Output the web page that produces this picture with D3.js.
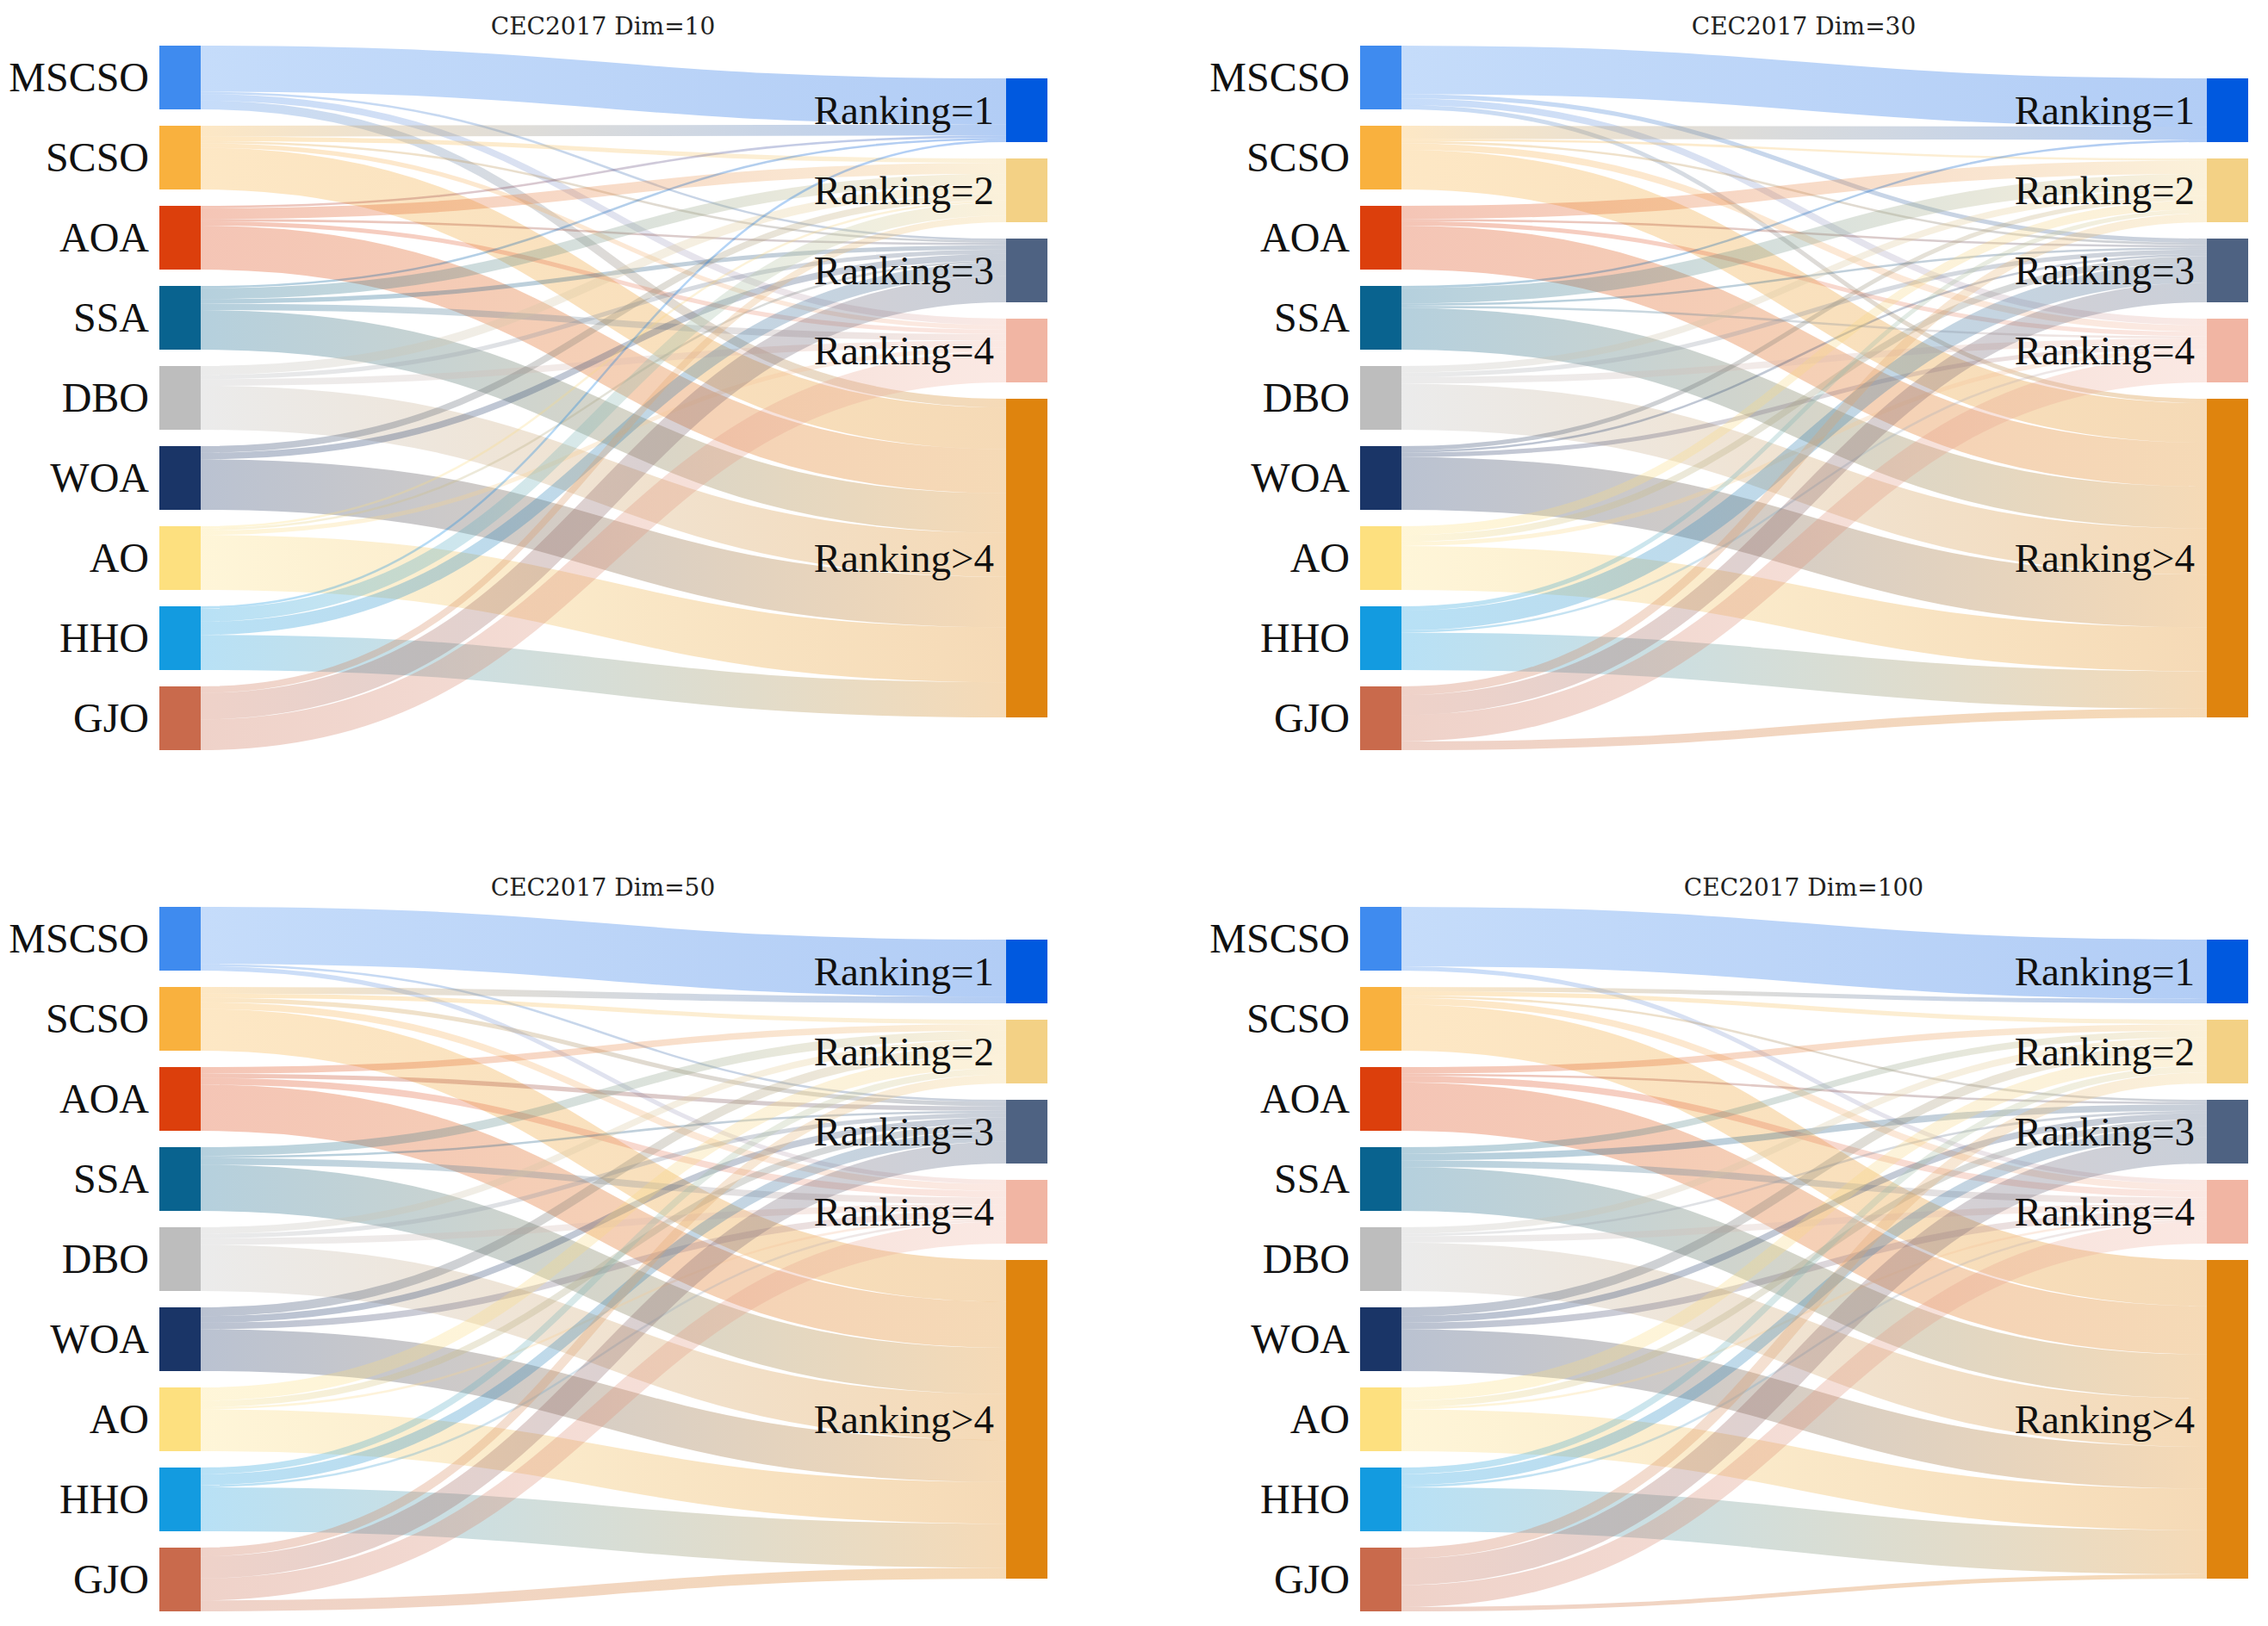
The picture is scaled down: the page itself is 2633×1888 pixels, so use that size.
<!DOCTYPE html>
<html>
<head>
<meta charset="utf-8">
<script src="https://cdn.jsdelivr.net/npm/d3@7"></script>
<style>
  body { margin: 0; background: #fff; }
</style>
</head>
<body>
<svg id="chart" width="2633" height="1888"></svg>
<script>
"use strict";

const algorithms = ["MSCSO", "SCSO", "AOA", "SSA", "DBO", "WOA", "AO", "HHO", "GJO"];
const rankings = ["Ranking=1", "Ranking=2", "Ranking=3", "Ranking=4", "Ranking>4"];
const algoColors = ["#3f8bef", "#f9b13e", "#dc3f0c", "#09638f", "#bdbdbd", "#1a3567", "#fde07f", "#139be0", "#c96a4c"];
const rankColors = ["#0059df", "#f3d185", "#4e6282", "#f1b5a3", "#df840e"];
const titles = ["CEC2017 Dim=10", "CEC2017 Dim=30", "CEC2017 Dim=50", "CEC2017 Dim=100"];

// number of functions per ranking class, one row per algorithm
// columns: Ranking=1, =2, =3, =4, >4
const dim10 = [
    [21, 0, 1, 3, 4],
    [5, 2, 1, 2, 19],
    [1, 5, 1, 2, 20],
    [1, 5, 2, 3, 18],
    [0, 4, 2, 3, 20],
    [0, 3, 3, 0, 23],
    [0, 1, 1, 2, 25],
    [1, 6, 6, 0, 16],
    [0, 3, 12, 14, 0]
];
const dim30 = [
    [22, 0, 2, 3, 2],
    [6, 1, 1, 3, 18],
    [0, 6, 1, 2, 20],
    [1, 7, 1, 1, 19],
    [0, 3, 2, 3, 21],
    [0, 2, 1, 2, 24],
    [0, 4, 3, 2, 20],
    [0, 2, 9, 1, 17],
    [0, 4, 9, 12, 4]
];
const dim50 = [
    [26, 0, 1, 2, 0],
    [3, 2, 2, 3, 19],
    [0, 3, 2, 3, 21],
    [0, 4, 1, 3, 21],
    [0, 3, 2, 3, 21],
    [0, 4, 3, 3, 19],
    [0, 6, 3, 1, 19],
    [0, 3, 5, 1, 20],
    [0, 4, 10, 10, 5]
];
const dim100 = [
    [27, 0, 0, 2, 0],
    [2, 2, 1, 3, 21],
    [0, 3, 1, 3, 22],
    [0, 3, 3, 3, 20],
    [0, 3, 1, 3, 22],
    [0, 4, 3, 3, 19],
    [0, 6, 3, 1, 19],
    [0, 3, 5, 1, 20],
    [0, 5, 12, 10, 2]
];

let svg = d3.select("#chart");
let defs = svg.append("defs");

let panels = [
    { title: titles[0], counts: dim10, dx: 0, dy: 0 },
    { title: titles[1], counts: dim30, dx: 1394, dy: 0 },
    { title: titles[2], counts: dim50, dx: 0, dy: 1000 },
    { title: titles[3], counts: dim100, dx: 1394, dy: 1000 }
];

let layout = {
    leftX: 185, rightX: 1168, nodeWidth: 48,
    top: 53, nodeGap: 19
};

// value -> pixel thickness
let k = d3.scaleLinear().domain([0, 29]).range([0, 74]);
let link = d3.linkHorizontal();

panels.forEach((p, pi) => drawPanel(p, pi));

function drawPanel(p, pi) {
    let g = svg.append("g")
        .attr("transform", "translate(" + p.dx + "," + p.dy + ")");

    // left nodes
    let y = layout.top;
    let left = algorithms.map((name, i) => {
        let h = k(d3.sum(p.counts[i]));
        let n = { name: name, color: algoColors[i], y0: y, y1: y + h };
        y += h + layout.nodeGap;
        return n;
    });
    let leftSpan = left[left.length - 1].y1 - left[0].y0;

    // right nodes (stacked, centred on the left column)
    let totals = rankings.map((r, j) => d3.sum(p.counts, row => row[j]));
    let rightSpan = d3.sum(totals, t => k(t)) + layout.nodeGap * (rankings.length - 1);
    y = layout.top + (leftSpan - rightSpan) / 2;
    let right = rankings.map((name, j) => {
        let h = k(totals[j]);
        let n = { name: name, color: rankColors[j], y0: y, y1: y + h };
        y += h + layout.nodeGap;
        return n;
    });

    // links: ordered by target at the source, by source at the target
    let links = [];
    let srcOff = left.map(n => n.y0);
    let tgtOff = right.map(n => n.y0);
    algorithms.forEach((a, i) => {
        rankings.forEach((r, j) => {
            let v = p.counts[i][j];
            if (!v) return;
            let w = k(v);
            links.push({ i: i, j: j, w: w, y0: srcOff[i] + w / 2 });
            srcOff[i] += w;
        });
    });
    algorithms.forEach((a, i) => {
        rankings.forEach((r, j) => {
            let l = links.find(d => d.i === i && d.j === j);
            if (!l) return;
            l.y1 = tgtOff[j] + l.w / 2;
            tgtOff[j] += l.w;
        });
    });

    let x0 = layout.leftX + layout.nodeWidth, x1 = layout.rightX;

    // gradient from source colour to target colour (in the panel's own space)
    links.forEach((l, li) => {
        let id = "grad-" + pi + "-" + li;
        let grad = defs.append("linearGradient")
            .attr("id", id)
            .attr("gradientUnits", "userSpaceOnUse")
            .attr("x1", x0).attr("x2", x1)
            .attr("y1", 0).attr("y2", 0);
        grad.append("stop").attr("offset", "0%").attr("stop-color", algoColors[l.i]);
        grad.append("stop").attr("offset", "100%").attr("stop-color", rankColors[l.j]);
        l.grad = id;
    });

    g.append("g")
        .selectAll("path")
        .data(links)
        .enter()
        .append("path")
        .attr("d", d => link({ source: [x0, d.y0], target: [x1, d.y1] }))
        .attr("fill", "none")
        .attr("stroke", d => "url(#" + d.grad + ")")
        .attr("stroke-opacity", 0.3)
        .attr("stroke-width", d => d.w);

    // nodes
    g.append("g").selectAll("rect")
        .data(left).enter().append("rect")
        .attr("x", layout.leftX)
        .attr("y", d => d.y0)
        .attr("width", layout.nodeWidth)
        .attr("height", d => d.y1 - d.y0)
        .attr("fill", d => d.color);
    g.append("g").selectAll("rect")
        .data(right).enter().append("rect")
        .attr("x", layout.rightX)
        .attr("y", d => d.y0)
        .attr("width", layout.nodeWidth)
        .attr("height", d => d.y1 - d.y0)
        .attr("fill", d => d.color);

    // labels
    g.append("g").selectAll("text")
        .data(left).enter().append("text")
        .attr("x", layout.leftX - 12)
        .attr("y", d => (d.y0 + d.y1) / 2 + 16)
        .attr("text-anchor", "end")
        .style("font-family", "'Liberation Serif', 'Times New Roman', serif")
        .style("font-size", "48px")
        .attr("fill", "#111")
        .text(d => d.name);
    g.append("g").selectAll("text")
        .data(right).enter().append("text")
        .attr("x", layout.rightX - 14)
        .attr("y", d => (d.y0 + d.y1) / 2 + 16)
        .attr("text-anchor", "end")
        .style("font-family", "'Liberation Serif', 'Times New Roman', serif")
        .style("font-size", "47px")
        .attr("fill", "#111")
        .text(d => d.name);

    // title
    g.append("text")
        .attr("x", 700)
        .attr("y", 40)
        .attr("text-anchor", "middle")
        .style("font-family", "'DejaVu Serif', serif")
        .style("font-size", "28px")
        .attr("fill", "#222")
        .text(p.title);
}
</script>
</body>
</html>
